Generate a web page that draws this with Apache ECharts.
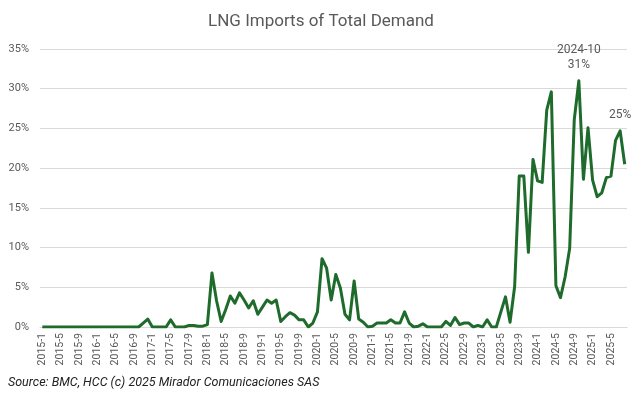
<!DOCTYPE html>
<html>
<head>
<meta charset="utf-8">
<script src="https://cdn.jsdelivr.net/npm/echarts@6/dist/echarts.min.js"></script>
<style>
html,body{margin:0;padding:0;background:#fff;}
#chart{width:642px;height:397px;}
</style>
</head>
<body>
<div id="chart"></div>
<script>
// Months 2015-1 .. 2025-8
var startYear = 2015;
var monthCount = 128;
var categories = [];
for (var k = 0; k < monthCount; k++) {
  categories.push((startYear + Math.floor(k / 12)) + '-' + (k % 12 + 1));
}

// LNG imports share of total demand (%)
var values2015_2016 = [0,0,0,0,0,0,0,0,0,0,0,0, 0,0,0,0,0,0,0,0,0,0,0.5,1.0];
var values2017 = [0,0,0,0,0.9,0,0,0,0.2,0.2,0.1,0.1];
var values2018 = [0.3,6.8,3.3,0.7,2.2,3.9,3.0,4.3,3.4,2.4,3.3,1.6];
var values2019 = [2.5,3.4,3.0,3.4,0.7,1.3,1.8,1.5,0.9,0.9,0,0.5];
var values2020 = [1.9,8.6,7.4,3.4,6.6,4.9,1.6,0.9,5.8,1.0,0.6,0];
var values2021 = [0.1,0.5,0.5,0.5,0.9,0.5,0.5,1.9,0.5,0,0.1,0.4];
var values2022 = [0,0,0,0,0.7,0.2,1.2,0.3,0.5,0.5,0,0.2];
var values2023 = [0,0.9,0,0,1.9,3.8,0.6,5.1,19.0,19.0,9.4,21.1];
var values2024 = [18.4,18.2,27.3,29.6,5.2,3.7,6.3,9.9,26.1,31.0,18.6,25.1];
var values2025 = [18.5,16.4,16.9,18.8,19.0,23.5,24.7,20.5];

var values = [].concat(values2015_2016, values2017, values2018, values2019,
  values2020, values2021, values2022, values2023, values2024, values2025);

var yTicks = [0,5,10,15,20,25,30,35];
var annotatedMonths = ['2024-10', '2025-7'];
var annotationTexts = ['2024-10\n31%', '25%'];

var markData = annotatedMonths.map(function (c, j) {
  var idx = categories.indexOf(c);
  return {
    coord: [c, values[idx]],
    label: { formatter: annotationTexts[j] }
  };
});

var chart = echarts.init(document.getElementById('chart'), null, {renderer: 'canvas'});
chart.setOption({
  animation: false,
  backgroundColor: '#fff',
  title: {
    text: 'LNG Imports of Total Demand',
    left: 'center', top: 8,
    textStyle: { color: '#595959', fontSize: 17, fontWeight: 'normal', fontFamily: 'Roboto' }
  },
  graphic: [{
    type: 'text', left: 8, top: 376,
    style: {
      text: 'Source: BMC, HCC (c) 2025 Mirador Comunicaciones SAS',
      fill: '#222', font: 'italic 12.5px Roboto'
    }
  }],
  grid: { left: 40, right: 15, top: 49, bottom: 70 },
  xAxis: {
    type: 'category',
    data: categories,
    boundaryGap: true,
    axisLine: { lineStyle: { color: '#d9d9d9', width: 1 } },
    axisTick: { show: false },
    axisLabel: {
      interval: 3, rotate: 90, margin: 6,
      color: '#595959', fontSize: 10.5, fontFamily: 'Roboto'
    }
  },
  yAxis: {
    type: 'value',
    min: yTicks[0], max: yTicks[yTicks.length - 1], interval: 5,
    axisLine: { show: false },
    axisTick: { show: false },
    splitLine: { lineStyle: { color: '#d9d9d9', width: 1 } },
    axisLabel: {
      formatter: '{value}%', margin: 11,
      color: '#595959', fontSize: 11, fontFamily: 'Roboto'
    }
  },
  series: [{
    type: 'line',
    data: values,
    symbol: 'none',
    showSymbol: false,
    lineStyle: { color: '#1e6b2b', width: 3, join: 'round' },
    itemStyle: { color: '#1e6b2b' },
    z: 5,
    markPoint: {
      symbol: 'rect',
      symbolSize: [1, 1],
      itemStyle: { color: 'rgba(0,0,0,0)' },
      label: {
        show: true, position: 'top', distance: 8,
        color: '#595959', fontSize: 12, fontFamily: 'Roboto', lineHeight: 15
      },
      data: markData
    }
  }]
});
</script>
</body>
</html>
